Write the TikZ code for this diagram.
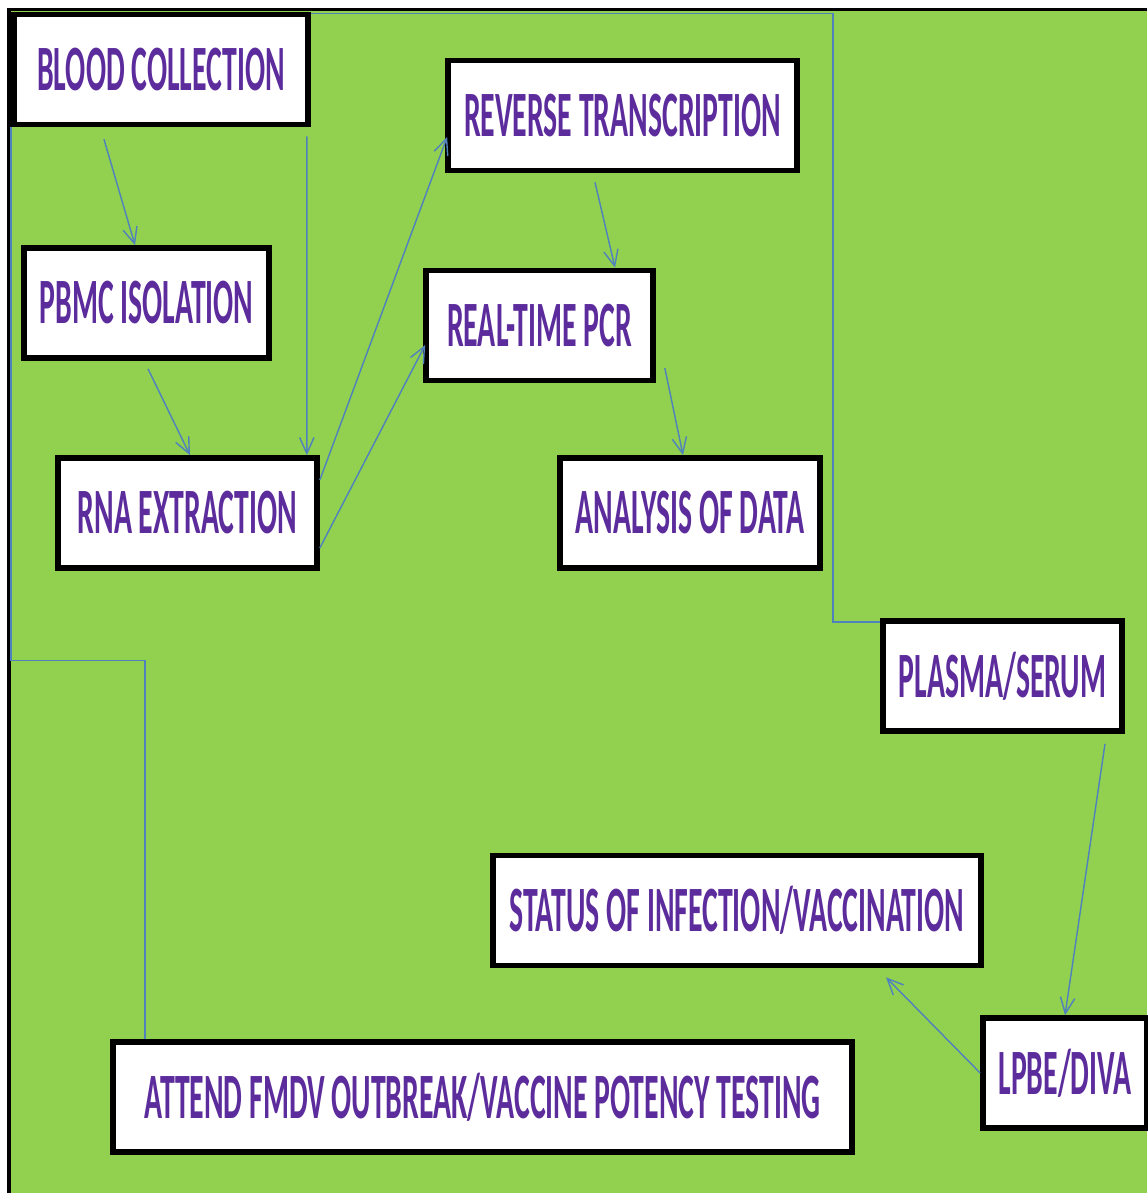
\documentclass[tikz,border=0pt]{standalone}
\usepackage{fontspec}
\newfontfamily\boxFont{Carlito}[FakeStretch=0.46]
\usepackage{xcolor}
\definecolor{bgGreen}{HTML}{92D050}
\definecolor{textPurple}{HTML}{5C2C9C}
\definecolor{linkBlue}{HTML}{4F81BD}
\usetikzlibrary{arrows.meta,calc}
\tikzset{
  stepBox/.style={
    rectangle,
    draw=black,
    line width=0.14cm,
    fill=white,
    minimum height=2.75cm,
    inner sep=0pt,
    font=\boxFont\bfseries\fontsize{46}{50}\selectfont,
    text=textPurple
 },
  arrowLine/.style={
    -{Straight Barb[length=0.4cm,width=0.36cm]},
    line width=1pt,
    color=linkBlue
 },
  linkLine/.style={
    line width=1pt,
    color=linkBlue
 }
}
\begin{document}
\begin{tikzpicture}[x=0.025cm,y=-0.025cm]

            % frame and background
            \useasboundingbox (0,0) rectangle (1147,1193);
            \fill[white] (0,0) rectangle (1147,1193);
            \fill[bgGreen] (9,9) rectangle (1147,1193);
            \draw[line width=0.075cm] (9,1193) -- (9,9) -- (1147,9);

            % first column
            \node[stepBox, minimum width=7.35cm] (blood) at (161,69.5) {BLOOD COLLECTION};
            \node[stepBox, minimum width=6.125cm] (pbmc) at (146.5,303) {PBMC ISOLATION};
            \node[stepBox, minimum width=6.475cm] (rna) at (187.5,513) {RNA EXTRACTION};

            % second column
            \node[stepBox, minimum width=8.725cm] (rt) at (622.5,115.5) {REVERSE TRANSCRIPTION};
            \node[stepBox, minimum width=5.675cm] (pcr) at (539.5,325.5) {REAL-TIME PCR};
            \node[stepBox, minimum width=6.5cm] (data) at (690,513) {ANALYSIS OF DATA};

            % serology branch
            \node[stepBox, minimum width=5.975cm] (serum) at (1002.5,676) {PLASMA/SERUM};
            \node[stepBox, minimum width=4.1cm] (diva) at (1065,1073) {LPBE/DIVA};
            \node[stepBox, minimum width=12.2cm] (status) at (737,910.5) {STATUS OF INFECTION/VACCINATION};

            % bottom
            \node[stepBox, minimum width=18.475cm] (attend) at (482.5,1097) {ATTEND FMDV OUTBREAK/VACCINE POTENCY TESTING};

            % molecular arrows
            \draw[arrowLine] ([shift={(-57,12)}]blood.south) -- ([shift={(-11.5,0)}]pbmc.north);
            \draw[arrowLine] ([shift={(-4,9)}]blood.south east) -- ([shift={(-13,0)}]rna.north east);
            \draw[arrowLine] ([shift={(1.5,8)}]pbmc.south) -- ([shift={(2.5,0)}]rna.north);
            \draw[arrowLine] ([shift={(0,-33)}]rna.east) -- ([shift={(2,21.5)}]rt.west);
            \draw[arrowLine] ([shift={(0,35)}]rna.east) -- ([shift={(2,19.5)}]pcr.west);
            \draw[arrowLine] ([shift={(-27.5,9)}]rt.south) -- ([shift={(75.5,0)}]pcr.north);
            \draw[arrowLine] ([shift={(9,42.5)}]pcr.east) -- ([shift={(-7,0)}]data.north);

            % serology arrows
            \draw[linkLine] ([shift={(0,2)}]blood.north east) -- ++(522,0) |- ([shift={(0,4)}]serum.north west);
            \draw[arrowLine] ([shift={(102.5,10)}]serum.south) -- (diva.north);
            \draw[arrowLine] (diva.west) -- ([shift={(149,9)}]status.south);

            % link to bottom
            \draw[linkLine] (blood.south west) -- ++(0,533) -| ([shift={(35,0)}]attend.north west);

        \end{tikzpicture}
\end{document}
